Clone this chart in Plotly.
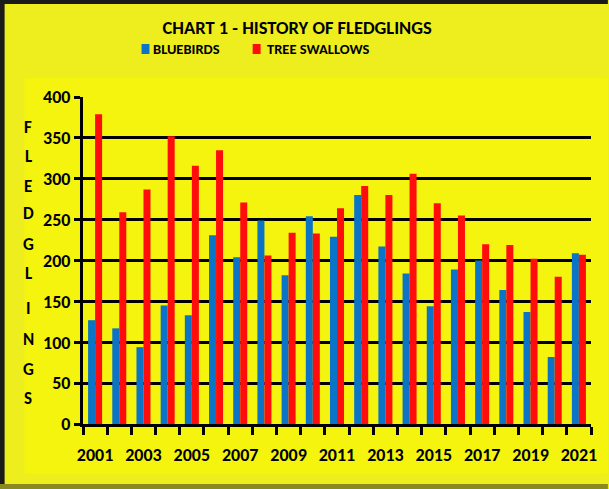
import plotly.graph_objects as go

years = list(range(2001, 2022))
bluebirds = [127, 117, 94, 145, 133, 231, 204, 249, 182, 254, 229, 280, 217, 184, 144, 189, 200, 164, 137, 82, 209]
tree_swallows = [379, 259, 287, 352, 316, 335, 271, 206, 234, 233, 264, 291, 280, 306, 270, 255, 220, 219, 202, 180, 207]
tick_years = list(range(2001, 2022, 2))
y_ticks = [0, 50, 100, 150, 200, 250, 300, 350, 400]
axis_letters = list("FLEDGLINGS")
series_names = ["BLUEBIRDS", "TREE SWALLOWS"]
series_colors = ["#0B74C6", "#FF0D0D"]

W, H = 609, 489
L, R, T, B = 83, 14, 97, 65
PW, PH = W - L - R, H - T - B

def px(x):
    return (x - L) / PW

def py(y):
    return (H - B - y) / PH

FONT = "Carlito, 'Liberation Sans Narrow', 'Liberation Sans', Arial, sans-serif"

fig = go.Figure()
fig.add_trace(go.Bar(x=years, y=bluebirds, name=series_names[0], showlegend=False,
                     marker=dict(color=series_colors[0], line=dict(width=0))))
fig.add_trace(go.Bar(x=years, y=tree_swallows, name=series_names[1], showlegend=False,
                     marker=dict(color=series_colors[1], line=dict(width=0))))

shapes = [
    dict(type="rect", xref="paper", yref="paper", x0=px(24), x1=px(612), y0=py(474), y1=py(78),
         fillcolor="#F4F40F", line=dict(width=0), layer="below"),
    dict(type="rect", xref="paper", yref="paper", x0=px(-2), x1=px(4), y0=py(492), y1=py(-2),
         fillcolor="#1a1a1a", line=dict(width=0), layer="below"),
    dict(type="rect", xref="paper", yref="paper", x0=px(-2), x1=px(612), y0=py(4), y1=py(-2),
         fillcolor="#1a1a1a", line=dict(width=0), layer="below"),
    dict(type="rect", xref="paper", yref="paper", x0=px(-2), x1=px(612), y0=py(492), y1=py(484),
         fillcolor="#8a8a20", line=dict(width=0), layer="below"),
]

annotations = []
letter_y = [127, 156, 186, 213, 244, 273, 308, 339, 369, 398]
for ch, yy in zip(axis_letters, letter_y):
    annotations.append(dict(text="<b>%s</b>" % ch, xref="paper", yref="paper", x=px(28), y=py(yy),
                            showarrow=False, xanchor="center", yanchor="middle",
                            font=dict(family=FONT, size=17, color="black")))

# legend drawn as swatches + text
legend_sq_x = [142, 254]
legend_txt_x = [152, 266]
for name, col, sx, tx in zip(series_names, series_colors, legend_sq_x, legend_txt_x):
    shapes.append(dict(type="rect", xref="paper", yref="paper", x0=px(sx), x1=px(sx + 8),
                       y0=py(54), y1=py(44), fillcolor=col, line=dict(width=0)))
    annotations.append(dict(text="<b>%s</b>" % name, xref="paper", yref="paper", x=px(tx), y=py(49.5),
                            showarrow=False, xanchor="left", yanchor="middle",
                            font=dict(family=FONT, size=14.5, color="black")))

fig.update_layout(
    width=W, height=H,
    margin=dict(l=L, r=R, t=T, b=B),
    paper_bgcolor="#EEEE1E",
    plot_bgcolor="rgba(0,0,0,0)",
    barmode="group", bargap=0.42, bargroupgap=0,
    showlegend=False,
    title=dict(text="<b>CHART 1 - HISTORY OF FLEDGLINGS</b>", x=0.488, xanchor="center",
               y=1 - 27.5 / H, yanchor="middle", font=dict(family=FONT, size=18.5, color="black")),
    shapes=shapes,
    annotations=annotations,
    xaxis=dict(range=[2000.5, 2021.5], tickvals=tick_years, ticktext=["<b>%d</b>" % y for y in tick_years],
               ticks="", showgrid=False, zeroline=False, showline=True, linecolor="black", linewidth=3,
               tickfont=dict(family=FONT, size=18, color="black"), ticklabelstandoff=12,
               minor=dict(tickvals=[y + 0.5 for y in range(2000, 2022)], ticks="outside", ticklen=8,
                          tickwidth=3, tickcolor="black", showgrid=False)),
    yaxis=dict(range=[0, 400], tickvals=y_ticks, ticktext=["<b>%d</b>" % v for v in y_ticks],
               ticks="outside", ticklen=6, tickwidth=3, tickcolor="black",
               showgrid=True, gridcolor="black", gridwidth=3, zeroline=False,
               showline=True, linecolor="black", linewidth=3,
               tickfont=dict(family=FONT, size=18, color="black")),
    font=dict(family=FONT, color="black"),
)

fig.write_html("out.html", config={"displayModeBar": False},
               post_script="document.body.style.margin='0';")
